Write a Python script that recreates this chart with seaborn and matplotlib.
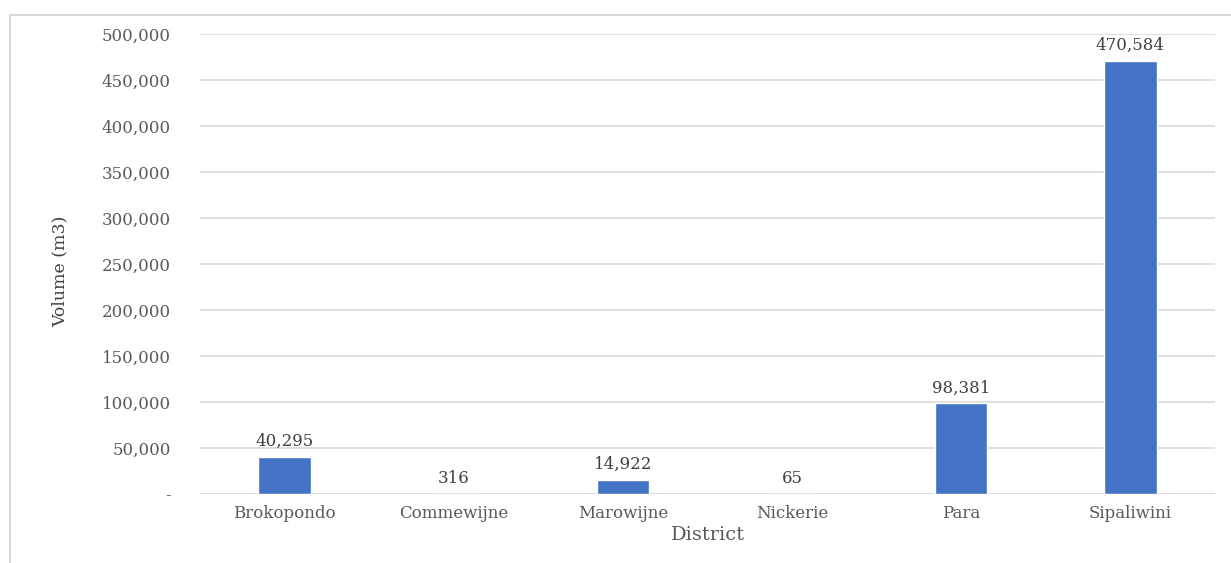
import matplotlib
matplotlib.use("Agg")
import matplotlib.pyplot as plt
import matplotlib.patches as mpatches
import seaborn as sns
import pandas as pd
from matplotlib.ticker import FuncFormatter

districts = ["Brokopondo", "Commewijne", "Marowijne", "Nickerie", "Para", "Sipaliwini"]
volumes = [40295, 316, 14922, 65, 98381, 470584]
y_ticks = [0, 50000, 100000, 150000, 200000, 250000, 300000, 350000, 400000, 450000, 500000]

df = pd.DataFrame({"District": districts, "Volume": volumes})

sns.set_theme(style="white")
plt.rcParams["font.family"] = ["DejaVu Serif", "Liberation Serif"]

fig = plt.figure(figsize=(12.31, 5.63), dpi=100)
ax = fig.add_axes([200 / 1231, 1 - 494 / 563, 1015 / 1231, 460 / 563])

sns.barplot(data=df, x="District", y="Volume", color="#4472C4", width=0.31,
            saturation=1, ax=ax, zorder=3)

ax.set_ylim(0, 500000)
ax.set_yticks(y_ticks)
ax.yaxis.set_major_formatter(FuncFormatter(lambda v, p: "-" if v == 0 else f"{int(v):,}"))
ax.grid(axis="y", color="#d9d9d9", linewidth=1.2, zorder=0)
for s in ax.spines.values():
    s.set_visible(False)
ax.axhline(0, color="#d9d9d9", linewidth=1.2, zorder=1)
ax.tick_params(axis="both", length=0, labelsize=12, labelcolor="#595959")
ax.tick_params(axis="y", pad=21)
ax.tick_params(axis="x", pad=8)

ax.set_xlabel("District", fontsize=14, color="#595959", labelpad=3)
ax.set_ylabel("Volume (m3)", fontsize=12.5, color="#404040")
ax.yaxis.set_label_coords(-0.130, 0.485)

for i, v in enumerate(volumes):
    ax.annotate(f"{v:,}", (i, v), xytext=(0, 5), textcoords="offset points",
                ha="center", va="bottom", fontsize=12, color="#404040")

# light frame around the chart area
frame = mpatches.Rectangle((10 / 1231, -0.1), 1.2, 1 - 15 / 563 + 0.1,
                           transform=fig.transFigure, fill=False,
                           edgecolor="#d9d9d9", linewidth=1.5)
fig.patches.append(frame)

fig.savefig("out.png", dpi=100)
